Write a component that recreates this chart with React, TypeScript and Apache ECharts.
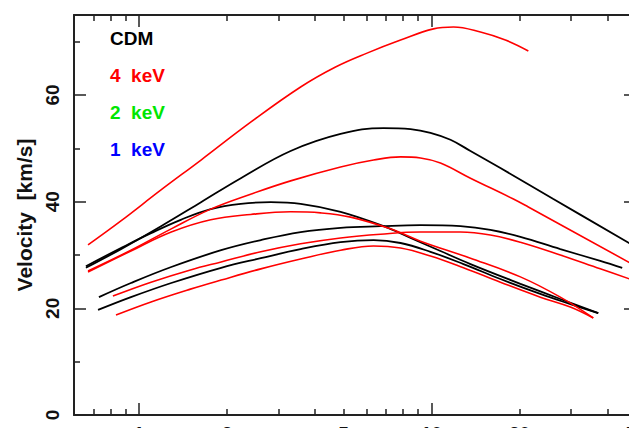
import React, { useEffect, useRef } from "react";
import * as echarts from "echarts";

// Radius (kpc) and velocity (km/s) for each rotation curve
const cdmA_r = [0.659, 0.868, 1.19, 1.63, 2.23, 3.3, 4.89, 6.86, 8.48, 9.92, 11.61, 13.59, 17.2, 26.09, 50];
const cdmA_v = [27.6, 31.1, 35.4, 39.9, 44.4, 49.5, 52.7, 53.8, 53.6, 52.9, 51.6, 49.5, 46.3, 40.5, 31.5];

const cdmB_r = [0.659, 0.868, 1.1, 1.39, 1.76, 2.23, 2.82, 3.57, 4.89, 6.86, 8.48, 10.73, 13.59, 20.13, 27.56, 37.15];
const cdmB_v = [27.9, 31.3, 34.1, 36.6, 38.6, 39.6, 39.9, 39.6, 38.1, 35.4, 33.2, 30.75, 28.3, 24.6, 21.75, 19.1];

const cdmC_r = [0.73, 0.939, 1.29, 1.91, 2.61, 3.57, 4.89, 6.7, 9.17, 12.56, 15.9, 20.13, 27.56, 37.74, 44.86];
const cdmC_v = [22.1, 24.75, 27.75, 30.9, 32.8, 34.3, 35.1, 35.4, 35.6, 35.4, 34.7, 33.4, 31.1, 28.9, 27.6];

const cdmD_r = [0.725, 0.939, 1.29, 1.91, 2.61, 3.57, 4.89, 6.34, 7.84, 9.92, 12.86, 17.2, 23.55, 29.82, 37.15];
const cdmD_v = [19.7, 22.1, 24.75, 27.6, 29.4, 31.1, 32.4, 32.8, 32.25, 30.6, 28.3, 25.5, 22.7, 20.8, 19.1];

const kev4A_r = [0.67, 0.868, 1.19, 1.63, 2.41, 3.57, 4.7, 6.05, 7.84, 10.16, 11.89, 14.7, 17.89, 21.43];
const kev4A_v = [31.9, 36.4, 42.2, 47.8, 54.9, 61.5, 65.25, 67.9, 70.3, 72.4, 72.75, 71.8, 70.3, 68.25];

const kev4B_r = [0.67, 0.939, 1.29, 1.76, 2.41, 3.3, 4.89, 6.34, 7.84, 9.17, 10.73, 13.59, 19.05, 21.43, 50];
const kev4B_v = [27.0, 30.9, 34.9, 38.6, 41.4, 43.9, 46.5, 47.8, 48.4, 48.2, 47.25, 44.4, 40.5, 39.0, 27.9];

const kev4C_r = [0.67, 0.939, 1.29, 1.76, 2.41, 3.3, 4.18, 5.29, 7.24, 9.17, 13.59, 20.13, 27.56, 35.72];
const kev4C_v = [26.8, 30.75, 34.3, 36.6, 37.6, 38.1, 37.9, 37.1, 34.9, 32.6, 29.4, 25.9, 22.1, 18.2];

const kev4D_r = [0.815, 1.1, 1.5, 1.91, 2.61, 3.57, 4.89, 6.7, 9.17, 12.56, 15.9, 20.13, 27.56, 37.74, 50];
const kev4D_v = [22.3, 24.9, 27.2, 28.7, 30.6, 32.1, 33.2, 33.9, 34.3, 34.3, 33.75, 32.4, 30.0, 27.4, 25.1];

const kev4E_r = [0.835, 1.1, 1.5, 1.91, 2.61, 3.57, 4.89, 6.34, 7.84, 9.92, 12.86, 17.2, 23.55, 29.82, 35.72];
const kev4E_v = [18.75, 21.2, 23.6, 25.3, 27.4, 29.25, 30.9, 31.7, 31.3, 29.8, 27.6, 24.9, 22.1, 20.25, 18.2];

// Axis ticks and labels
const xMinorTicks = [0.7, 0.8, 0.9, 2, 3, 4, 5, 6, 7, 8, 9, 20, 30, 40];
const xMajorTicks = [1, 10];
const xTickLabels = [1, 2, 5, 10, 20, 50];
const yMajorTicks = [0, 20, 40, 60];
const yMinorTicks = [10, 30, 50, 70];
const yTickLabels = [0, 20, 40, 60];

// Annotation labels
const noteLabels = ["CDM", "4  keV", "2  keV", "1  keV"];
const noteColors = ["#000000", "#ff0000", "#00e600", "#0000ff"];

const BLACK = "#000000";
const RED = "#ff0000";
const FONT = "'Liberation Sans', Arial, Helvetica, sans-serif";

const curves = [
  { name: "CDM A", r: cdmA_r, v: cdmA_v, color: BLACK },
  { name: "CDM B", r: cdmB_r, v: cdmB_v, color: BLACK },
  { name: "CDM C", r: cdmC_r, v: cdmC_v, color: BLACK },
  { name: "CDM D", r: cdmD_r, v: cdmD_v, color: BLACK },
  { name: "4 keV A", r: kev4A_r, v: kev4A_v, color: RED },
  { name: "4 keV B", r: kev4B_r, v: kev4B_v, color: RED },
  { name: "4 keV C", r: kev4C_r, v: kev4C_v, color: RED },
  { name: "4 keV D", r: kev4D_r, v: kev4D_v, color: RED },
  { name: "4 keV E", r: kev4E_r, v: kev4E_v, color: RED },
];

const X_MIN = 0.6;
const X_MAX = 50;
const Y_MIN = 0;
const Y_MAX = 75;

function xAxisDef(position: "bottom" | "top", ticks: number[], len: number, line: boolean, labels: number[] | null) {
  return {
    type: "log",
    logBase: 10,
    min: X_MIN,
    max: X_MAX,
    position,
    gridIndex: 0,
    axisLine: { show: line, onZero: false, lineStyle: { color: "#222", width: 2 } },
    axisTick: { show: true, inside: true, length: len, customValues: ticks, lineStyle: { color: "#222", width: 1.5 } },
    axisLabel: labels
      ? { show: true, customValues: labels, color: "#111", fontSize: 19, fontWeight: "bold", fontFamily: FONT, margin: 9 }
      : { show: false },
    splitLine: { show: false },
    minorTick: { show: false },
    minorSplitLine: { show: false },
  };
}

function yAxisDef(position: "left" | "right", ticks: number[], len: number, line: boolean, labels: number[] | null, name?: string) {
  const a: any = {
    type: "value",
    min: Y_MIN,
    max: Y_MAX,
    position,
    gridIndex: 0,
    axisLine: { show: line, onZero: false, lineStyle: { color: "#222", width: 2 } },
    axisTick: { show: true, inside: true, length: len, customValues: ticks, lineStyle: { color: "#222", width: 1.5 } },
    axisLabel: labels
      ? { show: true, customValues: labels, rotate: 90, color: "#111", fontSize: 19, fontWeight: "bold", fontFamily: FONT, margin: 12 }
      : { show: false },
    splitLine: { show: false },
  };
  if (name) {
    a.name = name;
    a.nameLocation = "middle";
    a.nameRotate = 90;
    a.nameGap = 36;
    a.nameTextStyle = { color: "#111", fontSize: 21, fontWeight: "bold", fontFamily: FONT };
  }
  return a;
}

export default function App() {
  const ref = useRef<HTMLDivElement>(null);

  useEffect(() => {
    if (!ref.current) return;
    const chart = echarts.init(ref.current, null, { renderer: "svg" });
    const option: any = {
      animation: false,
      backgroundColor: "#ffffff",
      grid: { left: 74, top: 15, width: 562, height: 400, containLabel: false },
      xAxis: [
        xAxisDef("bottom", xMinorTicks, 6, true, xTickLabels),
        xAxisDef("bottom", xMajorTicks, 12, false, null),
        xAxisDef("top", xMinorTicks, 6, true, null),
        xAxisDef("top", xMajorTicks, 12, false, null),
      ],
      yAxis: [
        yAxisDef("left", yMajorTicks, 12, true, yTickLabels, "Velocity  [km/s]"),
        yAxisDef("left", yMinorTicks, 6, false, null),
        yAxisDef("right", yMajorTicks, 12, true, null),
        yAxisDef("right", yMinorTicks, 6, false, null),
      ],
      graphic: noteLabels.map((t, i) => ({
        type: "text",
        x: 110,
        y: 38 + i * 37,
        z: 100,
        style: {
          text: t,
          fill: noteColors[i],
          fontSize: 19,
          fontWeight: "bold",
          fontFamily: FONT,
          align: "left",
          verticalAlign: "middle",
          textAlign: "left",
          textVerticalAlign: "middle",
        },
      })),
      series: curves.map((c) => ({
        name: c.name,
        type: "line",
        xAxisIndex: 0,
        yAxisIndex: 0,
        data: c.r.map((r, i) => [r, c.v[i]]),
        showSymbol: false,
        symbol: "none",
        smooth: 0.4,
        lineStyle: { color: c.color, width: c.color === RED ? 1.6 : 1.8 },
        itemStyle: { color: c.color },
        clip: true,
      })),
    };
    chart.setOption(option);
    return () => chart.dispose();
  }, []);

  return (
    <div
      style={{
        position: "fixed",
        left: 0,
        top: 0,
        width: 629,
        height: 428,
        overflow: "hidden",
        background: "#fff",
      }}
    >
      <div ref={ref} style={{ position: "absolute", left: 0, top: 0, width: 680, height: 470 }} />
    </div>
  );
}
